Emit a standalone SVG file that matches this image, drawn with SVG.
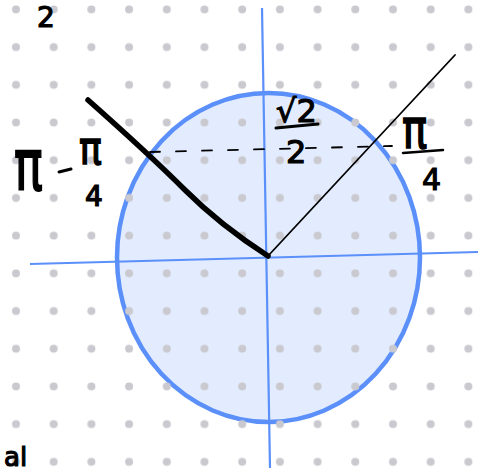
<svg xmlns="http://www.w3.org/2000/svg" width="488" height="473" viewBox="0 0 488 473">
<defs>
<pattern id="dots" patternUnits="userSpaceOnUse" width="37.7" height="37.7">
<circle cx="16" cy="9.5" r="4" fill="#c9c9cf"/>
</pattern>
<style>
.ax{stroke:#5b8ff9;stroke-width:2.2;fill:none}
.ink{stroke:#000;fill:none;stroke-linecap:round;stroke-linejoin:round}
.t{font-family:"DejaVu Sans",sans-serif;fill:#000;stroke:#000;stroke-width:1.2}
</style>
</defs>
<rect width="488" height="473" fill="#fff"/>
<g id="circle">
<ellipse cx="268.5" cy="257.5" rx="151.5" ry="164.5" fill="#5b8ff9" fill-opacity="0.17" stroke="#5b8ff9" stroke-width="4.5"/>
</g>
<rect width="488" height="473" fill="url(#dots)"/>
<g id="axes">
<line class="ax" x1="30" y1="264" x2="478" y2="252"/>
<line class="ax" x1="262" y1="8" x2="270" y2="468"/>
</g>
<g id="connectors">
<path class="ink" d="M88 100 Q150 155 185 190 Q220 225 268 256" stroke-width="5.5"/>
<path class="ink" d="M268 256 L455 55" stroke-width="1.8"/>
<path class="ink" d="M150 152 L392 146" stroke-width="1.8" stroke-dasharray="10 16"/>
</g>
<g id="label-left">
<text class="t" transform="translate(14 190) scale(1 1.5)" font-size="48">π</text>
<line class="ink" x1="59" y1="172" x2="71" y2="169" stroke-width="3"/>
<text class="t" transform="translate(79 164) scale(1 1.2)" font-size="38">π</text>
<text class="t" x="85" y="206" font-size="28">4</text>
</g>
<g id="label-mid">
<text class="t" x="276" y="122" font-size="32">√2</text>
<line class="ink" x1="276" y1="128" x2="318" y2="124" stroke-width="3"/>
<text class="t" x="286" y="163" font-size="32">2</text>
</g>
<g id="label-right">
<text class="t" transform="translate(402 148) scale(1 1.3)" font-size="42">π</text>
<line class="ink" x1="403" y1="153" x2="443" y2="150" stroke-width="2.5"/>
<text class="t" x="422" y="190" font-size="30">4</text>
</g>
<g id="label-top">
<text class="t" x="37" y="27" font-size="28">2</text>
</g>
<g id="label-bottom">
<text class="t" x="4" y="466" font-size="26">al</text>
</g>
</svg>
